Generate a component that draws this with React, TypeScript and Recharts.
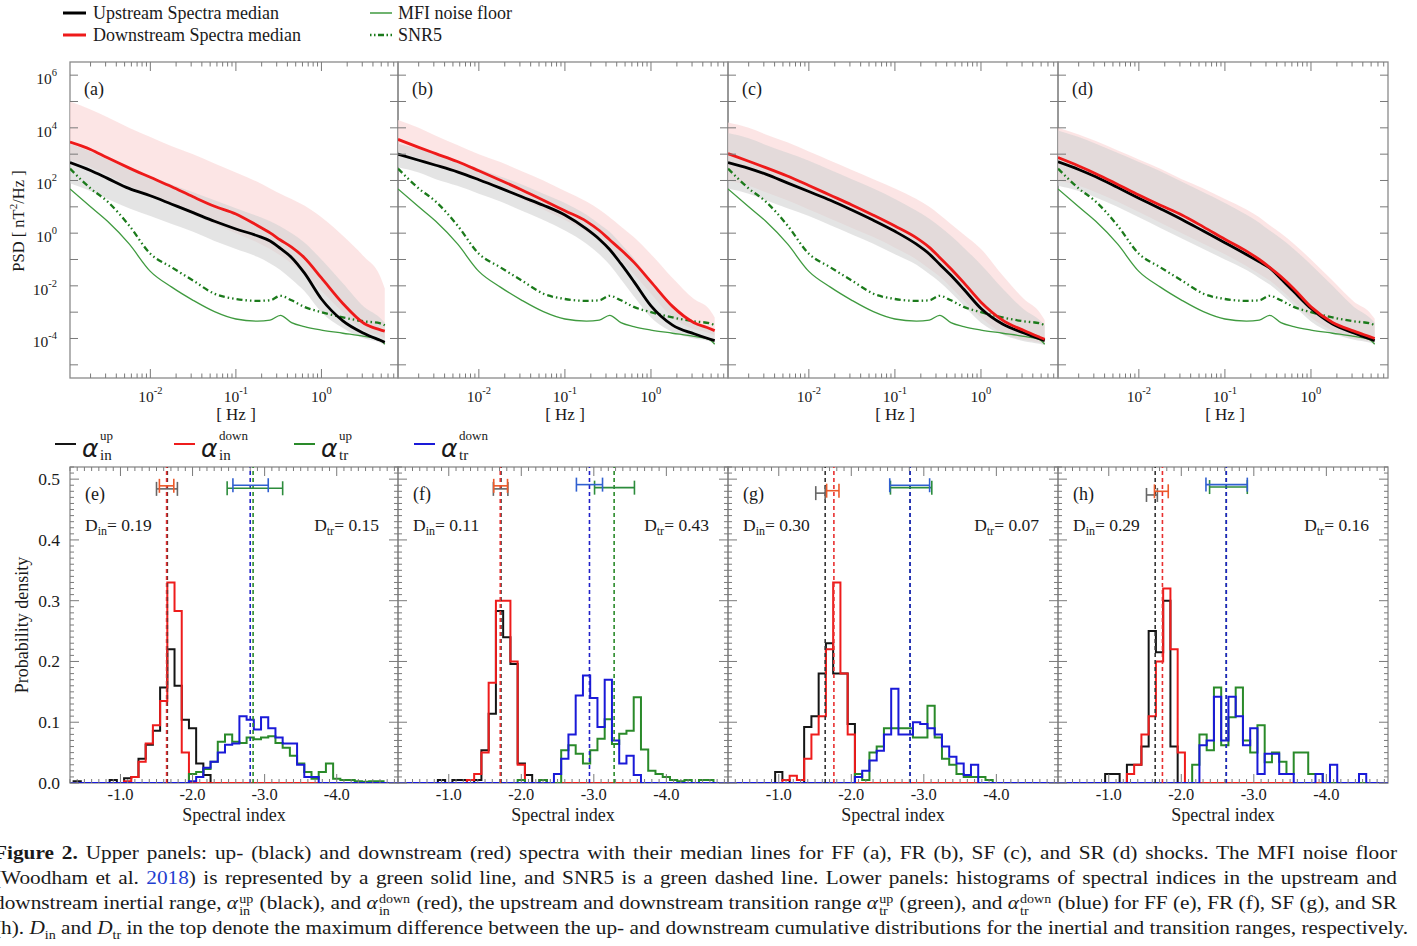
import React from 'react';
import { ComposedChart, Line, Area, XAxis, YAxis, ReferenceLine, Scatter, ErrorBar } from 'recharts';

const SERIF = '"Liberation Serif", "Times New Roman", serif';
const SANS = '"DejaVu Sans", sans-serif';
const FRAME_C = '#8a8a8a';
const TICK_C = '#7a7a7a';
const TXT_C = '#1a1a1a';

// ---------------- Upper panels (PSD) ----------------
const FREQ_HZ = [0.00115, 0.002, 0.00316, 0.00562, 0.01, 0.0178, 0.0316, 0.0562, 0.1, 0.178, 0.251, 0.331, 0.447, 0.631, 1.0, 1.78, 3.16, 4.79, 5.5];
// all PSD values below are log10(nT^2/Hz)
const NOISE_FLOOR_LOG10 = [1.68, 1.0, 0.45, -0.4, -1.45, -2.05, -2.55, -2.98, -3.26, -3.34, -3.3, -3.12, -3.4, -3.55, -3.68, -3.8, -3.92, -4.04, -4.22];
const SNR5_LOG10 = [2.45, 1.7, 1.2, 0.3, -0.78, -1.3, -1.8, -2.3, -2.5, -2.57, -2.55, -2.38, -2.55, -2.8, -3.0, -3.2, -3.35, -3.42, -3.5];

const A_UP_MED = [2.68, 2.38, 2.08, 1.7, 1.42, 1.1, 0.78, 0.45, 0.16, -0.1, -0.3, -0.58, -0.92, -1.51, -2.5, -3.33, -3.81, -4.06, -4.14];
const A_DOWN_MED = [3.46, 3.18, 2.86, 2.48, 2.12, 1.76, 1.38, 1.02, 0.73, 0.29, 0.01, -0.26, -0.53, -0.93, -1.7, -2.67, -3.43, -3.66, -3.72];
const A_UP_LO = [1.9, 1.6, 1.3, 0.95, 0.65, 0.35, 0.05, -0.3, -0.6, -0.9, -1.15, -1.4, -1.75, -2.2, -3.0, -3.6, -4.0, -4.15, -4.25];
const A_UP_HI = [3.4, 3.1, 2.8, 2.45, 2.15, 1.85, 1.55, 1.25, 0.95, 0.65, 0.45, 0.25, 0.0, -0.35, -1.0, -1.9, -2.8, -3.2, -3.4];
const A_DOWN_LO = [2.8, 2.5, 2.2, 1.8, 1.4, 1.05, 0.7, 0.35, 0.0, -0.35, -0.6, -0.85, -1.15, -1.55, -2.2, -3.0, -3.7, -3.9, -4.0];
const A_DOWN_HI = [5.0, 4.7, 4.4, 4.0, 3.65, 3.3, 3.0, 2.65, 2.3, 1.95, 1.7, 1.5, 1.3, 1.05, 0.6, -0.1, -0.9, -1.6, -2.1];

const B_UP_MED = [3.0, 2.77, 2.58, 2.33, 2.03, 1.71, 1.38, 1.06, 0.69, 0.16, -0.23, -0.62, -1.16, -1.83, -2.76, -3.49, -3.82, -4.02, -4.08];
const B_DOWN_MED = [3.56, 3.26, 3.02, 2.72, 2.37, 2.01, 1.64, 1.25, 0.85, 0.45, 0.1, -0.25, -0.63, -1.1, -1.85, -2.78, -3.4, -3.62, -3.7];
const B_UP_LO = [2.5, 2.3, 2.05, 1.8, 1.5, 1.2, 0.85, 0.5, 0.1, -0.4, -0.8, -1.2, -1.75, -2.4, -3.2, -3.75, -4.0, -4.1, -4.2];
const B_UP_HI = [3.4, 3.2, 3.0, 2.75, 2.45, 2.15, 1.85, 1.5, 1.15, 0.7, 0.35, 0.05, -0.4, -0.95, -1.8, -2.8, -3.4, -3.6, -3.75];
const B_DOWN_LO = [3.1, 2.85, 2.6, 2.3, 2.0, 1.7, 1.3, 0.9, 0.5, 0.05, -0.3, -0.65, -1.05, -1.55, -2.3, -3.2, -3.65, -3.8, -3.9];
const B_DOWN_HI = [4.3, 4.0, 3.7, 3.35, 3.0, 2.7, 2.35, 2.0, 1.6, 1.2, 0.9, 0.6, 0.25, -0.15, -0.8, -1.7, -2.5, -2.9, -3.2];

const C_UP_MED = [2.68, 2.46, 2.24, 1.91, 1.58, 1.25, 0.88, 0.49, 0.07, -0.42, -0.79, -1.18, -1.6, -2.13, -2.86, -3.45, -3.79, -4.01, -4.08];
const C_DOWN_MED = [3.02, 2.73, 2.49, 2.17, 1.81, 1.44, 1.07, 0.68, 0.27, -0.18, -0.54, -0.92, -1.35, -1.88, -2.62, -3.3, -3.7, -3.95, -4.03];
const C_UP_LO = [1.7, 1.5, 1.25, 0.95, 0.65, 0.3, -0.05, -0.4, -0.8, -1.2, -1.55, -1.85, -2.25, -2.75, -3.4, -3.85, -4.1, -4.2, -4.25];
const C_UP_HI = [3.8, 3.6, 3.35, 3.05, 2.75, 2.4, 2.05, 1.7, 1.3, 0.85, 0.55, 0.25, -0.1, -0.55, -1.2, -2.1, -2.9, -3.3, -3.5];
const C_DOWN_LO = [2.0, 1.8, 1.55, 1.25, 0.9, 0.55, 0.2, -0.15, -0.55, -1.0, -1.35, -1.65, -2.05, -2.55, -3.2, -3.8, -4.05, -4.15, -4.2];
const C_DOWN_HI = [4.2, 4.0, 3.75, 3.45, 3.1, 2.75, 2.4, 2.05, 1.7, 1.3, 1.0, 0.7, 0.35, -0.05, -0.6, -1.6, -2.5, -3.0, -3.3];

const D_UP_MED = [2.71, 2.42, 2.14, 1.74, 1.33, 0.93, 0.52, 0.08, -0.36, -0.81, -1.09, -1.32, -1.73, -2.22, -2.86, -3.45, -3.79, -4.01, -4.08];
const D_DOWN_MED = [2.87, 2.55, 2.26, 1.86, 1.45, 1.06, 0.69, 0.24, -0.23, -0.68, -1.0, -1.3, -1.65, -2.11, -2.8, -3.39, -3.72, -3.93, -4.0];
const D_UP_LO = [1.8, 1.6, 1.35, 1.0, 0.6, 0.2, -0.2, -0.6, -1.0, -1.4, -1.7, -1.95, -2.3, -2.75, -3.35, -3.8, -4.05, -4.15, -4.2];
const D_UP_HI = [3.9, 3.65, 3.4, 3.05, 2.7, 2.35, 1.95, 1.55, 1.15, 0.7, 0.4, 0.1, -0.2, -0.6, -1.2, -2.0, -2.8, -3.2, -3.4];
const D_DOWN_LO = [2.0, 1.8, 1.55, 1.2, 0.8, 0.4, 0.0, -0.4, -0.8, -1.25, -1.55, -1.8, -2.15, -2.6, -3.2, -3.7, -4.0, -4.1, -4.15];
const D_DOWN_HI = [4.0, 3.75, 3.5, 3.15, 2.8, 2.45, 2.05, 1.7, 1.3, 0.9, 0.6, 0.3, 0.0, -0.4, -1.0, -1.8, -2.6, -3.0, -3.25];

const FREQ_DOMAIN = [0.00115, 7.85];
const PSD_DOMAIN = [3.162e-6, 3.162e6];
const FREQ_MAJOR_TICKS = [0.01, 0.1, 1];
const FREQ_MAJOR_EXP = ['-2', '-1', '0'];
const FREQ_MINOR_TICKS = [0.002, 0.003, 0.004, 0.005, 0.006, 0.007, 0.008, 0.009, 0.02, 0.03, 0.04, 0.05, 0.06, 0.07, 0.08, 0.09, 0.2, 0.3, 0.4, 0.5, 0.6, 0.7, 0.8, 0.9, 2, 3, 4, 5, 6, 7];
const PSD_TICKS = [1e-5, 1e-4, 1e-3, 1e-2, 1e-1, 1, 10, 100, 1e3, 1e4, 1e5, 1e6];
const PSD_LABEL_EXP = [-4, -2, 0, 2, 4, 6];

const UPPER_LABELS = ['(a)', '(b)', '(c)', '(d)'];
const UPPER_SERIES = [
  [A_UP_MED, A_DOWN_MED, A_UP_LO, A_UP_HI, A_DOWN_LO, A_DOWN_HI],
  [B_UP_MED, B_DOWN_MED, B_UP_LO, B_UP_HI, B_DOWN_LO, B_DOWN_HI],
  [C_UP_MED, C_DOWN_MED, C_UP_LO, C_UP_HI, C_DOWN_LO, C_DOWN_HI],
  [D_UP_MED, D_DOWN_MED, D_UP_LO, D_UP_HI, D_DOWN_LO, D_DOWN_HI],
];

// ---------------- Lower panels (histograms) ----------------
// bin centres -0.4 ... -4.8, width 0.1
const BIN_CENTERS = [-0.4, -0.5, -0.6, -0.7, -0.8, -0.9, -1.0, -1.1, -1.2, -1.3, -1.4, -1.5, -1.6, -1.7, -1.8, -1.9, -2.0, -2.1, -2.2, -2.3, -2.4, -2.5, -2.6, -2.7, -2.8, -2.9, -3.0, -3.1, -3.2, -3.3, -3.4, -3.5, -3.6, -3.7, -3.8, -3.9, -4.0, -4.1, -4.2, -4.3, -4.4, -4.5, -4.6, -4.7, -4.8];
const BIN_WIDTH = 0.1;

const E_IN_UP = [0.003, 0, 0, 0, 0, 0.005, 0, 0.008, 0.01, 0.04, 0.063, 0.086, 0.157, 0.22, 0.16, 0.104, 0.09, 0.032, 0.013, 0, 0, 0, 0, 0, 0, 0, 0, 0, 0, 0, 0, 0, 0, 0, 0, 0, 0, 0, 0, 0, 0, 0, 0, 0, 0];
const E_IN_DOWN = [0, 0, 0, 0, 0, 0, 0, 0.003, 0.01, 0.035, 0.065, 0.095, 0.135, 0.33, 0.283, 0.05, 0, 0, 0, 0, 0, 0, 0, 0, 0, 0, 0, 0, 0, 0, 0, 0, 0, 0, 0, 0, 0, 0, 0, 0, 0, 0, 0, 0, 0];
const E_TR_UP = [0, 0, 0, 0, 0, 0, 0, 0, 0, 0, 0, 0, 0, 0, 0, 0, 0.015, 0.018, 0.023, 0.035, 0.068, 0.08, 0.068, 0.066, 0.075, 0.072, 0.075, 0.077, 0.066, 0.058, 0.045, 0.032, 0.018, 0.007, 0.018, 0.032, 0.007, 0.005, 0.005, 0.003, 0.002, 0.003, 0.003, 0, 0];
const E_TR_DOWN = [0, 0, 0, 0, 0, 0, 0, 0, 0, 0, 0, 0, 0, 0, 0, 0, 0.003, 0.01, 0.025, 0.035, 0.05, 0.063, 0.065, 0.11, 0.104, 0.088, 0.108, 0.09, 0.075, 0.065, 0.065, 0.03, 0.01, 0.01, 0, 0, 0, 0, 0, 0, 0, 0, 0, 0, 0];

const F_IN_UP = [0, 0, 0, 0, 0, 0.005, 0, 0.005, 0.005, 0, 0.005, 0.054, 0.114, 0.283, 0.24, 0.196, 0.032, 0.013, 0, 0.005, 0, 0, 0, 0, 0, 0, 0, 0, 0, 0, 0, 0, 0, 0, 0, 0, 0, 0, 0, 0, 0, 0, 0, 0, 0];
const F_IN_DOWN = [0, 0, 0, 0, 0, 0, 0, 0, 0, 0.005, 0.015, 0.05, 0.165, 0.3, 0.3, 0.2, 0.03, 0, 0, 0, 0, 0, 0, 0, 0, 0, 0, 0, 0, 0, 0, 0, 0, 0, 0, 0, 0, 0, 0, 0, 0, 0, 0, 0, 0];
const F_TR_UP = [0, 0, 0, 0, 0, 0, 0, 0, 0, 0, 0, 0, 0, 0, 0, 0, 0.005, 0, 0, 0.005, 0, 0, 0.054, 0.062, 0.048, 0.032, 0.054, 0.073, 0.105, 0.064, 0.081, 0.086, 0.141, 0.055, 0.02, 0.015, 0.01, 0.005, 0.003, 0.005, 0, 0.005, 0.005, 0, 0];
const F_TR_DOWN = [0, 0, 0, 0, 0, 0, 0, 0, 0, 0, 0, 0, 0, 0, 0, 0, 0, 0, 0, 0, 0, 0.015, 0.04, 0.08, 0.144, 0.177, 0.14, 0.092, 0.17, 0.07, 0.032, 0.045, 0.013, 0, 0, 0, 0, 0, 0, 0, 0, 0, 0, 0, 0];

const G_IN_UP = [0, 0, 0, 0, 0, 0, 0.018, 0.005, 0, 0, 0.092, 0.11, 0.18, 0.23, 0.18, 0.18, 0.097, 0, 0, 0, 0, 0, 0, 0, 0, 0, 0, 0, 0, 0, 0, 0, 0, 0, 0, 0, 0, 0, 0, 0, 0, 0, 0, 0, 0];
const G_IN_DOWN = [0, 0, 0, 0, 0, 0, 0, 0.005, 0.012, 0.005, 0.04, 0.08, 0.11, 0.22, 0.33, 0.18, 0.08, 0, 0, 0, 0, 0, 0, 0, 0, 0, 0, 0, 0, 0, 0, 0, 0, 0, 0, 0, 0, 0, 0, 0, 0, 0, 0, 0, 0];
const G_TR_UP = [0, 0, 0, 0, 0, 0, 0, 0, 0, 0, 0, 0, 0, 0, 0, 0, 0, 0.015, 0.005, 0.05, 0.06, 0.09, 0.09, 0.09, 0.09, 0.075, 0.075, 0.127, 0.075, 0.04, 0.03, 0.015, 0.01, 0.01, 0.01, 0.005, 0, 0, 0, 0, 0, 0, 0, 0, 0];
const G_TR_DOWN = [0, 0, 0, 0, 0, 0, 0, 0, 0, 0, 0, 0, 0, 0, 0, 0, 0, 0.01, 0.02, 0.037, 0.053, 0.08, 0.155, 0.08, 0.08, 0.1, 0.097, 0.09, 0.08, 0.06, 0.043, 0.032, 0.013, 0.03, 0, 0, 0, 0, 0, 0, 0, 0, 0, 0, 0];

const H_IN_UP = [0, 0, 0, 0, 0, 0, 0.015, 0.015, 0, 0.03, 0.03, 0.06, 0.25, 0.215, 0.3, 0.06, 0, 0, 0, 0, 0, 0, 0, 0, 0, 0, 0, 0, 0, 0, 0, 0, 0, 0, 0, 0, 0, 0, 0, 0, 0, 0, 0, 0, 0];
const H_IN_DOWN = [0, 0, 0, 0, 0, 0, 0, 0, 0, 0.015, 0.03, 0.08, 0.11, 0.2, 0.32, 0.22, 0.05, 0, 0, 0, 0, 0, 0, 0, 0, 0, 0, 0, 0, 0, 0, 0, 0, 0, 0, 0, 0, 0, 0, 0, 0, 0, 0, 0, 0];
const H_TR_UP = [0, 0, 0, 0, 0, 0, 0, 0, 0, 0, 0, 0, 0, 0, 0, 0, 0, 0, 0.03, 0.08, 0.054, 0.157, 0.062, 0.108, 0.157, 0.07, 0.05, 0.095, 0.034, 0.05, 0.035, 0.015, 0.05, 0.05, 0.015, 0.015, 0, 0, 0, 0, 0, 0, 0, 0, 0];
const H_TR_DOWN = [0, 0, 0, 0, 0, 0, 0, 0, 0, 0, 0, 0, 0, 0, 0, 0, 0, 0, 0, 0.062, 0.07, 0.142, 0.07, 0.142, 0.11, 0.062, 0.09, 0.015, 0.048, 0.048, 0.015, 0.015, 0, 0, 0, 0.015, 0, 0.03, 0, 0, 0, 0.015, 0, 0, 0];

// medians [in-up, in-down, tr-up, tr-down]
const MEDIANS = [
  [-1.65, -1.64, -2.84, -2.80],
  [-1.72, -1.71, -3.28, -2.94],
  [-1.64, -1.76, -2.81, -2.81],
  [-1.64, -1.74, -2.62, -2.62],
];
// error bars: [centre, half-width, level] in order [in-up, in-down, tr-up, tr-down]
const ERRBARS = [
  [[-1.645, 0.145, 0.484], [-1.64, 0.10, 0.489], [-2.865, 0.385, 0.485], [-2.805, 0.245, 0.490]],
  [[-1.715, 0.10, 0.484], [-1.715, 0.095, 0.489], [-3.285, 0.275, 0.486], [-2.94, 0.18, 0.491]],
  [[-1.575, 0.065, 0.477], [-1.745, 0.085, 0.481], [-2.825, 0.285, 0.486], [-2.805, 0.275, 0.490]],
  [[-1.595, 0.075, 0.474], [-1.725, 0.095, 0.480], [-2.65, 0.26, 0.487], [-2.625, 0.285, 0.491]],
];
const D_IN = ['0.19', '0.11', '0.30', '0.29'];
const D_TR = ['0.15', '0.43', '0.07', '0.16'];
const LOWER_LABELS = ['(e)', '(f)', '(g)', '(h)'];
const LOWER_SERIES = [
  [E_IN_UP, E_IN_DOWN, E_TR_UP, E_TR_DOWN],
  [F_IN_UP, F_IN_DOWN, F_TR_UP, F_TR_DOWN],
  [G_IN_UP, G_IN_DOWN, G_TR_UP, G_TR_DOWN],
  [H_IN_UP, H_IN_DOWN, H_TR_UP, H_TR_DOWN],
];

const IDX_DOMAIN = [-4.85, -0.3];
const PD_DOMAIN = [0, 0.52];
const IDX_MAJOR_TICKS = [-1, -2, -3, -4];
const IDX_TICKS = Array.from({ length: 46 }, (_, i) => -(0.3 + 0.1 * i)).filter((v) => v >= -4.81);
const PD_TICKS = Array.from({ length: 53 }, (_, i) => i / 100);

const HIST_COLORS = ['#151515', '#ee1c1c', '#2a8a2a', '#1a1ad8'];
const MED_COLORS = ['#333333', '#e83030', '#2a8a2a', '#2020c8'];
const ERR_COLORS = ['#666666', '#ec5a2a', '#2c8c3c', '#3060d0'];

// ---------------- layout ----------------
const PANEL_LEFT = [70, 398, 728, 1058];
const PANEL_W = [328, 330, 330, 330];
const UP_TOP = 62;
const UP_H = 316;
const LOW_TOP = 467;
const LOW_H = 316;
const ML = 62, MR = 8, MT = 6, MB = 45;
const AX = 1; // size reserved by each (invisible) axis band

const lg = (v) => Math.pow(10, v);

function buildPsdRows(s) {
  const [up, down, upLo, upHi, dnLo, dnHi] = s;
  return FREQ_HZ.map((f, i) => ({
    f,
    up: lg(up[i]),
    down: lg(down[i]),
    noise: lg(NOISE_FLOOR_LOG10[i]),
    snr: lg(SNR5_LOG10[i]),
    upBand: [lg(upLo[i]), lg(upHi[i])],
    downBand: [lg(dnLo[i]), lg(dnHi[i])],
  }));
}

function buildHistRows(s) {
  const rows = [{ x: IDX_DOMAIN[1], a: 0, b: 0, c: 0, d: 0 }];
  BIN_CENTERS.forEach((c, i) => {
    rows.push({ x: c + BIN_WIDTH / 2, a: s[0][i], b: s[1][i], c: s[2][i], d: s[3][i] });
  });
  const last = BIN_CENTERS.length - 1;
  rows.push({ x: BIN_CENTERS[last] - BIN_WIDTH / 2, a: s[0][last], b: s[1][last], c: s[2][last], d: s[3][last] });
  return rows;
}

const makeFreqTick = (plotH) => (props) => {
  const { x, y, payload } = props;
  const v = payload.value;
  const mi = FREQ_MAJOR_TICKS.findIndex((m) => Math.abs(m - v) / m < 1e-6);
  const len = mi >= 0 ? 9 : 4.5;
  return (
    <g>
      <line x1={x} y1={y} x2={x} y2={y - len} stroke={TICK_C} strokeWidth={1} />
      <line x1={x} y1={y - plotH} x2={x} y2={y - plotH + len} stroke={TICK_C} strokeWidth={1} />
      {mi >= 0 && (
        <text x={x} y={y + 24} textAnchor="middle" fontFamily={SERIF} fontSize={15.5} fill={TXT_C}>
          10<tspan dy={-8} fontSize={10.5}>{FREQ_MAJOR_EXP[mi]}</tspan>
        </text>
      )}
    </g>
  );
};

const makePsdTick = (plotW, labels) => (props) => {
  const { x, y, payload } = props;
  const e = Math.round(Math.log10(payload.value));
  const show = labels && PSD_LABEL_EXP.includes(e);
  return (
    <g>
      <line x1={x} y1={y} x2={x + 8} y2={y} stroke={TICK_C} strokeWidth={1} />
      <line x1={x + plotW} y1={y} x2={x + plotW - 8} y2={y} stroke={TICK_C} strokeWidth={1} />
      {show && (
        <text x={x - 13} y={y + 9} textAnchor="end" fontFamily={SERIF} fontSize={15.5} fill={TXT_C}>
          10<tspan dy={-8} fontSize={10.5}>{String(e)}</tspan>
        </text>
      )}
    </g>
  );
};

const makeIdxTick = (plotH) => (props) => {
  const { x, y, payload } = props;
  const v = payload.value;
  const major = IDX_MAJOR_TICKS.some((m) => Math.abs(m - v) < 1e-6);
  const len = major ? 9 : 4;
  return (
    <g>
      <line x1={x} y1={y} x2={x} y2={y - len} stroke={TICK_C} strokeWidth={1} />
      <line x1={x} y1={y - plotH} x2={x} y2={y - plotH + len} stroke={TICK_C} strokeWidth={1} />
      {major && (
        <text x={x} y={y + 17} textAnchor="middle" fontFamily={SERIF} fontSize={16.5} fill={TXT_C}>
          {v.toFixed(1)}
        </text>
      )}
    </g>
  );
};

const makePdTick = (plotW, labels) => (props) => {
  const { x, y, payload } = props;
  const v = payload.value;
  const major = Math.abs(v * 10 - Math.round(v * 10)) < 1e-6;
  const len = major ? 9 : 4;
  return (
    <g>
      <line x1={x} y1={y} x2={x + len} y2={y} stroke={TICK_C} strokeWidth={1} />
      <line x1={x + plotW} y1={y} x2={x + plotW - len} y2={y} stroke={TICK_C} strokeWidth={1} />
      {major && labels && (
        <text x={x - 10} y={y + 6} textAnchor="end" fontFamily={SERIF} fontSize={17.5} fill={TXT_C}>
          {v.toFixed(1)}
        </text>
      )}
    </g>
  );
};

function PsdPanel({ idx }) {
  const left = PANEL_LEFT[idx];
  const w = PANEL_W[idx];
  const rows = buildPsdRows(UPPER_SERIES[idx]);
  return (
    <div style={{ position: 'absolute', left: left - ML - AX, top: UP_TOP - MT }}>
      <ComposedChart width={w + ML + MR + AX} height={UP_H + MT + MB + AX} data={rows} margin={{ top: MT, right: MR, bottom: MB, left: ML }}>
        <XAxis dataKey="f" type="number" scale="log" domain={FREQ_DOMAIN} allowDataOverflow
          ticks={[...FREQ_MINOR_TICKS, ...FREQ_MAJOR_TICKS]} interval={0} height={AX} tickSize={0} tickMargin={0}
          axisLine={false} tickLine={false} tick={makeFreqTick(UP_H)} />
        <YAxis type="number" scale="log" domain={PSD_DOMAIN} allowDataOverflow ticks={PSD_TICKS} interval={0}
          width={AX} tickSize={0} tickMargin={0} axisLine={false} tickLine={false} tick={makePsdTick(w, idx === 0)} />
        <Area type="monotone" dataKey="downBand" stroke="none" fill="#fbdada" fillOpacity={0.7} isAnimationActive={false} />
        <Area type="monotone" dataKey="upBand" stroke="none" fill="#d2d2d2" fillOpacity={0.6} isAnimationActive={false} />
        <Line type="monotone" dataKey="noise" stroke="#3f9a3f" strokeWidth={1.3} dot={false} isAnimationActive={false} />
        <Line type="monotone" dataKey="snr" stroke="#1b7a1b" strokeWidth={2.3} strokeDasharray="6 3 1.5 3 1.5 3" dot={false} isAnimationActive={false} />
        <Line type="monotone" dataKey="up" stroke="#000000" strokeWidth={2.8} dot={false} isAnimationActive={false} />
        <Line type="monotone" dataKey="down" stroke="#ee1a1a" strokeWidth={2.8} dot={false} isAnimationActive={false} />
      </ComposedChart>
    </div>
  );
}

function HistPanel({ idx }) {
  const left = PANEL_LEFT[idx];
  const w = PANEL_W[idx];
  const rows = buildHistRows(LOWER_SERIES[idx]);
  const keys = ['a', 'b', 'c', 'd'];
  return (
    <div style={{ position: 'absolute', left: left - ML - AX, top: LOW_TOP - MT }}>
      <ComposedChart width={w + ML + MR + AX} height={LOW_H + MT + MB + AX} data={rows} margin={{ top: MT, right: MR, bottom: MB, left: ML }}>
        <XAxis dataKey="x" type="number" domain={IDX_DOMAIN} reversed allowDataOverflow ticks={IDX_TICKS} interval={0}
          height={AX} tickSize={0} tickMargin={0} axisLine={false} tickLine={false} tick={makeIdxTick(LOW_H)} />
        <YAxis type="number" domain={PD_DOMAIN} allowDataOverflow ticks={PD_TICKS} interval={0} width={AX}
          tickSize={0} tickMargin={0} axisLine={false} tickLine={false} tick={makePdTick(w, idx === 0)} />
        {keys.map((k, j) => (
          <Line key={k} type="stepAfter" dataKey={k} stroke={HIST_COLORS[j]} strokeWidth={2} dot={false} isAnimationActive={false} />
        ))}
        {MEDIANS[idx].map((m, j) => (
          <ReferenceLine key={'m' + j} x={m} stroke={MED_COLORS[j]} strokeWidth={1.6} strokeDasharray="4 3" />
        ))}
        {ERRBARS[idx].map((e, j) => (
          <Scatter key={'e' + j} data={[{ x: e[0], y: e[2], err: e[1] }]} dataKey="y" isAnimationActive={false}
            shape={() => <g />}>
            <ErrorBar dataKey="err" direction="x" width={7} stroke={ERR_COLORS[j]} strokeWidth={1.6} isAnimationActive={false} />
          </Scatter>
        ))}
      </ComposedChart>
    </div>
  );
}

const LEG2_X = [55, 174, 294, 414];
const LEG2_SUP = ['up', 'down', 'up', 'down'];
const LEG2_SUB = ['in', 'in', 'tr', 'tr'];

function Stack({ sup, sub }) {
  return (
    <span style={{ display: 'inline-flex', flexDirection: 'column', verticalAlign: '0.5em', fontSize: '0.66em', lineHeight: '1em', margin: '0 1px' }}>
      <span>{sup}</span>
      <span>{sub}</span>
    </span>
  );
}
const Al = () => <i>α</i>;

export default function App() {
  const lineStyle = {
    height: 25,
    whiteSpace: 'nowrap',
    textAlign: 'justify',
    textAlignLast: 'justify',
  };
  const CAP_SCALE = 1.12;
  return (
    <div style={{ position: 'absolute', left: 0, top: 0, width: 1417, height: 946, background: '#fff', overflow: 'hidden', fontFamily: SERIF, color: TXT_C }}>
      {/* frames */}
      <svg width={1417} height={946} style={{ position: 'absolute', left: 0, top: 0 }}>
        {PANEL_LEFT.map((l, i) => (
          <g key={i}>
            <rect x={l} y={UP_TOP} width={PANEL_W[i]} height={UP_H} fill="none" stroke={FRAME_C} strokeWidth={1.3} />
            <rect x={l} y={LOW_TOP} width={PANEL_W[i]} height={LOW_H} fill="none" stroke={FRAME_C} strokeWidth={1.3} />
          </g>
        ))}
      </svg>

      {[0, 1, 2, 3].map((i) => <PsdPanel key={'p' + i} idx={i} />)}
      {[0, 1, 2, 3].map((i) => <HistPanel key={'h' + i} idx={i} />)}

      {/* text overlay */}
      <svg width={1417} height={946} style={{ position: 'absolute', left: 0, top: 0, pointerEvents: 'none' }} fontFamily={SERIF} fill={TXT_C}>
        {/* legend 1 */}
        <line x1={63} y1={13} x2={86} y2={13} stroke="#000" strokeWidth={3} />
        <text x={93} y={19} fontSize={18}>Upstream Spectra median</text>
        <line x1={63} y1={35} x2={86} y2={35} stroke="#ee1a1a" strokeWidth={3} />
        <text x={93} y={41} fontSize={18}>Downstream Spectra median</text>
        <line x1={370} y1={13} x2={392} y2={13} stroke="#3f9a3f" strokeWidth={1.5} />
        <text x={398} y={19} fontSize={18}>MFI noise floor</text>
        <line x1={370} y1={35} x2={392} y2={35} stroke="#1b7a1b" strokeWidth={2.3} strokeDasharray="1.5 2.5 1.5 2.5 6 2.5" />
        <text x={398} y={41} fontSize={18}>SNR5</text>

        {/* upper y title */}
        <text transform="translate(24,221) rotate(-90)" textAnchor="middle" fontSize={16.5}>
          PSD [ nT<tspan dy={-7} fontSize={11}>2</tspan><tspan dy={7}>/Hz ]</tspan>
        </text>
        {/* lower y title */}
        <text transform="translate(28,625) rotate(-90)" textAnchor="middle" fontSize={18}>Probability density</text>

        {PANEL_LEFT.map((l, i) => {
          const cx = l + PANEL_W[i] / 2;
          const r = l + PANEL_W[i];
          return (
            <g key={'t' + i}>
              <text x={cx + 2} y={420} textAnchor="middle" fontSize={17}>[ Hz ]</text>
              <text x={cx} y={821} textAnchor="middle" fontSize={18}>Spectral index</text>
              <text x={l + 14} y={95} fontSize={18}>{UPPER_LABELS[i]}</text>
              <text x={l + 15} y={500} fontSize={18}>{LOWER_LABELS[i]}</text>
              <text x={l + 15} y={531} fontSize={17.5}>
                D<tspan dy={4} fontSize={12}>in</tspan><tspan dy={-4}>= {D_IN[i]}</tspan>
              </text>
              <text x={r - 19} y={531} fontSize={17.5} textAnchor="end">
                D<tspan dy={4} fontSize={12}>tr</tspan><tspan dy={-4}>= {D_TR[i]}</tspan>
              </text>
            </g>
          );
        })}

        {/* legend 2 */}
        {LEG2_X.map((x, j) => (
          <g key={'l2' + j}>
            <line x1={x} y1={444} x2={x + 21} y2={444} stroke={HIST_COLORS[j]} strokeWidth={2} />
            <text x={x + 27} y={457} fontFamily={SANS} fontStyle="italic" fontSize={25}>α</text>
            <text x={x + 45} y={440} fontSize={13}>{LEG2_SUP[j]}</text>
            <text x={x + 45} y={460} fontSize={15}>{LEG2_SUB[j]}</text>
          </g>
        ))}
      </svg>

      {/* caption */}
      <div style={{ position: 'absolute', left: -6, top: 840, width: 1403 / CAP_SCALE, fontSize: 19, lineHeight: '25px', transform: `scaleX(${CAP_SCALE})`, transformOrigin: '0 0' }}>
        <div style={lineStyle}>
          <b>Figure 2.</b> Upper panels: up- (black) and downstream (red) spectra with their median lines for FF (a), FR (b), SF (c), and SR (d) shocks. The MFI noise floor
        </div>
        <div style={lineStyle}>
          (Woodham et al. <span style={{ color: '#1f3fd0' }}>2018</span>) is represented by a green solid line, and SNR5 is a green dashed line. Lower panels: histograms of spectral indices in the upstream and
        </div>
        <div style={lineStyle}>
          downstream inertial range, <Al /><Stack sup="up" sub="in" /> (black), and <Al /><Stack sup="down" sub="in" /> (red), the upstream and downstream transition range <Al /><Stack sup="up" sub="tr" /> (green), and <Al /><Stack sup="down" sub="tr" /> (blue) for FF (e), FR (f), SF (g), and SR
        </div>
        <div style={lineStyle}>
          (h). <i>D</i><sub style={{ fontSize: '0.66em' }}>in</sub> and <i>D</i><sub style={{ fontSize: '0.66em' }}>tr</sub> in the top denote the maximum difference between the up- and downstream cumulative distributions for the inertial and transition ranges, respectively.
        </div>
      </div>
    </div>
  );
}
